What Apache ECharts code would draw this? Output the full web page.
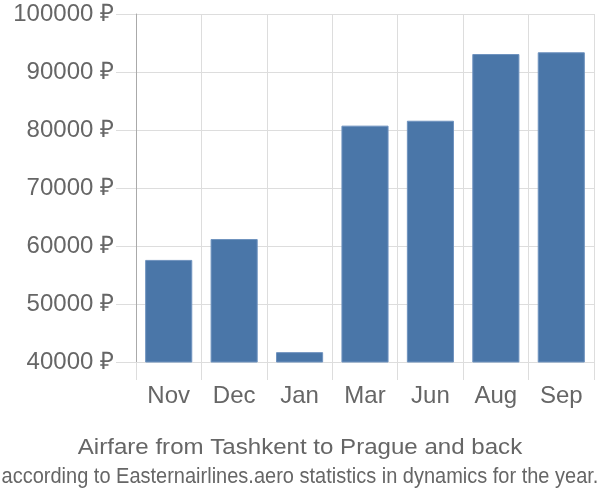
<!DOCTYPE html>
<html><head><meta charset="utf-8">
<script src="https://cdn.jsdelivr.net/npm/echarts@6/dist/echarts.min.js"></script>
<style>html,body{margin:0;padding:0;background:#fff}#c{width:600px;height:500px}</style>
</head><body><div id="c"></div>
<script>
const categories = ["Nov", "Dec", "Jan", "Mar", "Jun", "Aug", "Sep"];
const prices = [57600, 61200, 41700, 80750, 81600, 93100, 93400];
const yMin = 40000, yMax = 100000, yStep = 10000;
const titleText = "Airfare from Tashkent to Prague and back";
const subText = "according to Easternairlines.aero statistics in dynamics for the year.";

const chart = echarts.init(document.getElementById('c'), null, {renderer: 'canvas'});
const font = "'Liberation Sans', Arial, sans-serif";
chart.setOption({
  animation: false,
  textStyle: {fontFamily: font},
  graphic: [{
    type: 'text', x: 300, y: 448.5, scaleX: 1.12, scaleY: 1,
    style: {text: titleText, fill: '#666', font: "21.5px 'Liberation Sans', Arial, sans-serif", textAlign: 'center', textVerticalAlign: 'middle'}
  }, {
    type: 'text', x: 300, y: 477, scaleX: 0.93, scaleY: 1,
    style: {text: subText, fill: '#666', font: "21.5px 'Liberation Sans', Arial, sans-serif", textAlign: 'center', textVerticalAlign: 'middle'}
  }],
  grid: {left: 136, right: 6, top: 14, bottom: 138, containLabel: false},
  xAxis: {
    type: 'category', data: categories,
    axisLine: {show: false},
    axisTick: {show: true, length: 18, inside: false, lineStyle: {color: '#ddd'}},
    splitLine: {show: true, lineStyle: {color: '#ddd'}},
    axisLabel: {fontSize: 24, color: '#666', margin: 22, fontFamily: font}
  },
  yAxis: {
    type: 'value', min: yMin, max: yMax, interval: yStep,
    axisLine: {show: true, lineStyle: {color: '#aaa'}},
    axisTick: {show: true, length: 20, lineStyle: {color: '#ddd'}},
    splitLine: {show: true, lineStyle: {color: '#ddd'}},
    axisLabel: {fontSize: 24, color: '#666', margin: 22, fontFamily: font, formatter: v => v + ' ₽'}
  },
  series: [{
    type: 'bar', data: prices, barCategoryGap: '28%',
    itemStyle: {color: '#4a76a8', borderColor: '#6f93bf', borderWidth: 1}
  }]
});
</script></body></html>
